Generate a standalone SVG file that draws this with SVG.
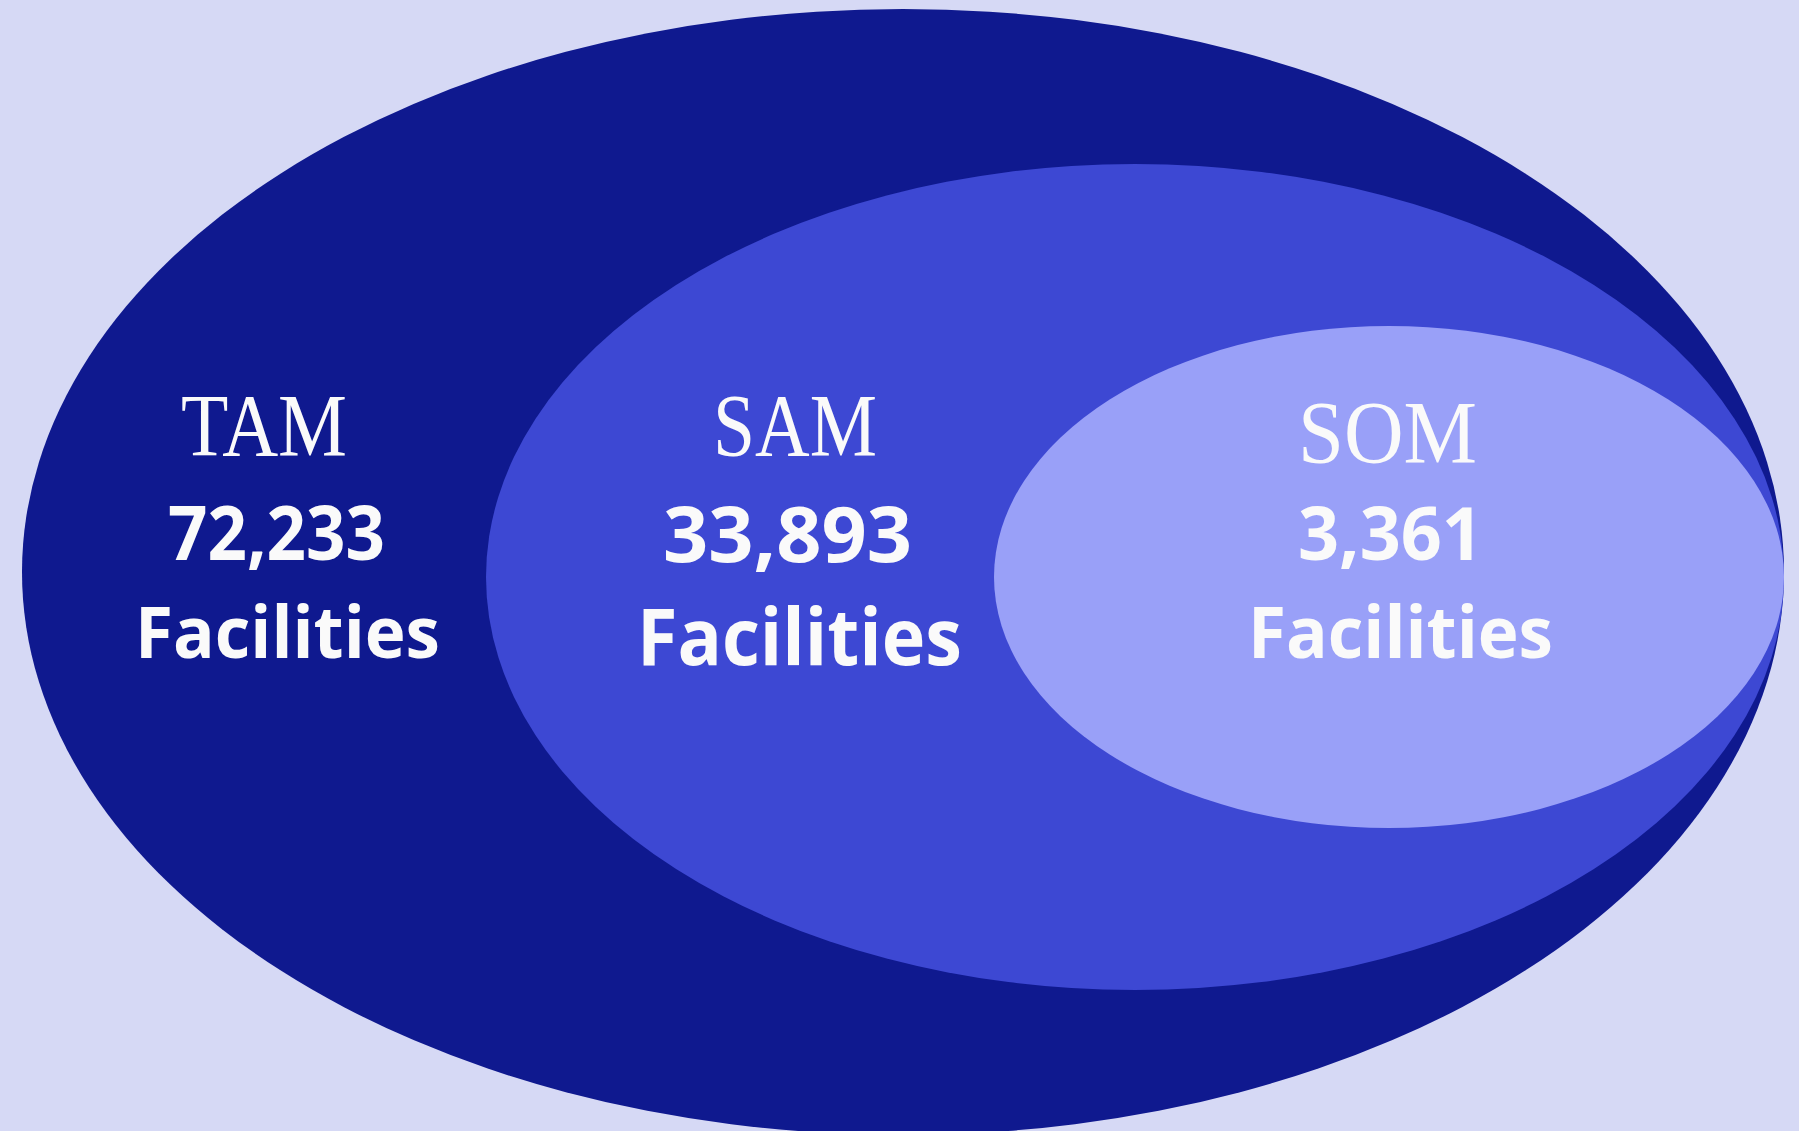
<svg xmlns="http://www.w3.org/2000/svg" width="1799" height="1131" viewBox="0 0 1799 1131">
<style>
.t{font-family:"Liberation Serif","DejaVu Serif",serif;font-size:88px;fill:#FAFAFA}
.n{font-family:"Open Sans","Liberation Sans",sans-serif;font-weight:bold;fill:#FAFAFA}
</style>
<rect width="1799" height="1131" fill="#D6D9F5"/>
<g id="tam">
<ellipse cx="903" cy="572" rx="881" ry="563" fill="#0F198F"/>
<text class="t" x="181" y="455" textLength="166" lengthAdjust="spacingAndGlyphs">TAM</text>
<text class="n" x="168" y="560" font-size="75" textLength="217" lengthAdjust="spacingAndGlyphs">72,233</text>
<text class="n" x="135" y="658" font-size="72" textLength="305" lengthAdjust="spacingAndGlyphs">Facilities</text>
</g>
<g id="sam">
<ellipse cx="1135" cy="577" rx="649" ry="413" fill="#3D48D3"/>
<text class="t" x="713" y="455" textLength="164" lengthAdjust="spacingAndGlyphs">SAM</text>
<text class="n" x="663" y="562" font-size="77" textLength="249" lengthAdjust="spacingAndGlyphs">33,893</text>
<text class="n" x="637" y="665" font-size="78" textLength="325" lengthAdjust="spacingAndGlyphs">Facilities</text>
</g>
<g id="som">
<ellipse cx="1389" cy="577" rx="395" ry="251" fill="#99A0F8"/>
<text class="t" x="1298" y="462" textLength="179" lengthAdjust="spacingAndGlyphs">SOM</text>
<text class="n" x="1298" y="560" font-size="74" textLength="185" lengthAdjust="spacingAndGlyphs">3,361</text>
<text class="n" x="1248" y="658" font-size="72" textLength="305" lengthAdjust="spacingAndGlyphs">Facilities</text>
</g>
<g id="connectors"/>
</svg>
